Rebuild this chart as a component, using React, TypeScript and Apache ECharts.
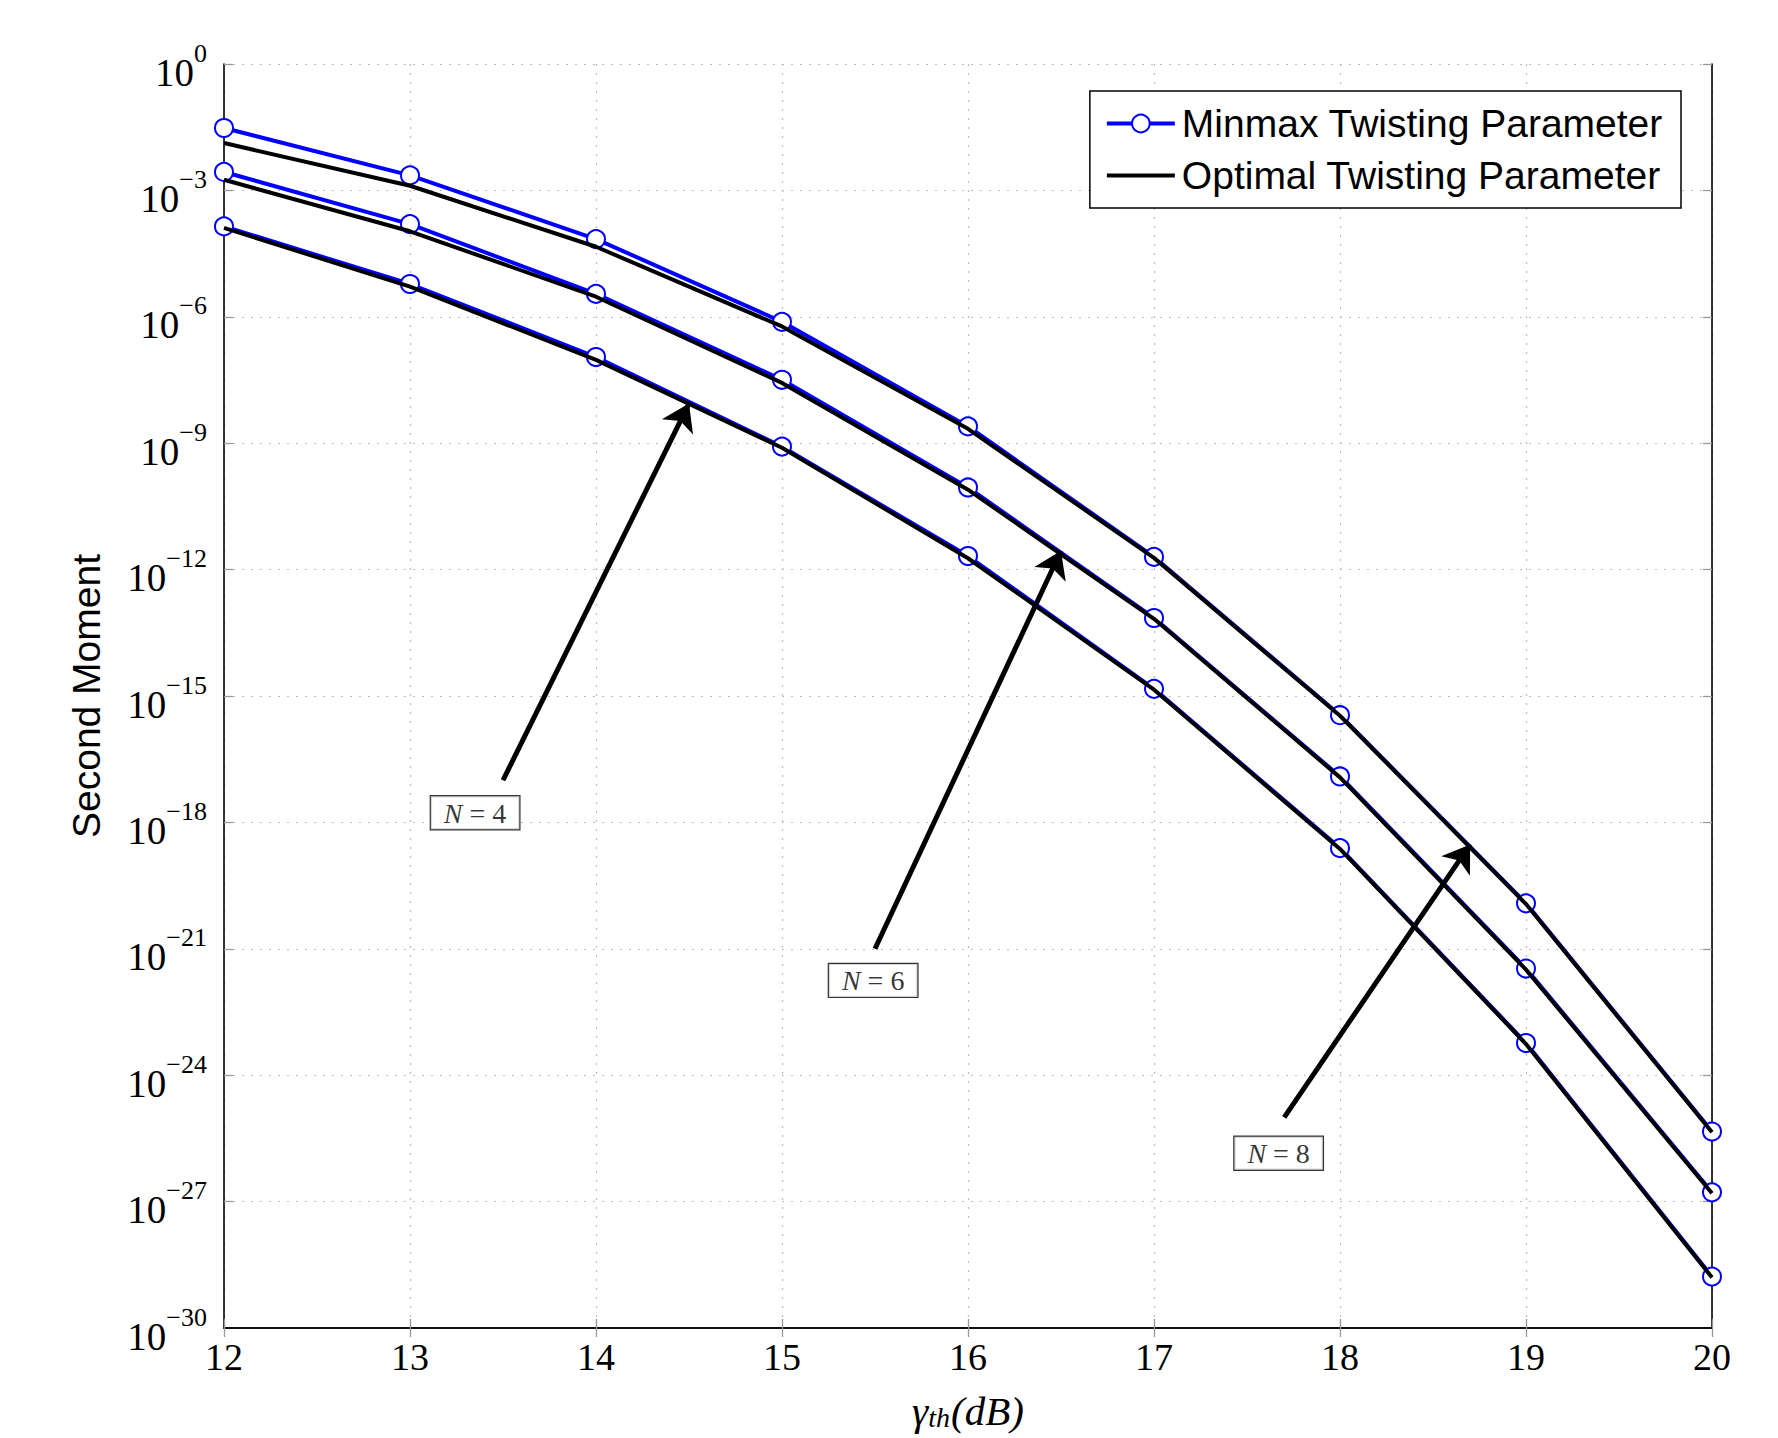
import React, { useEffect, useRef } from "react";
import * as echarts from "echarts";

// gamma_th in dB
const xValues = [12, 13, 14, 15, 16, 17, 18, 19, 20];

// Second moment values
const minmaxN8 = [3.03e-2, 2.27e-3, 7.0e-5, 7.6e-7, 2.5e-9, 2.0e-12, 3.5e-16, 1.2e-20, 4.6e-26];
const optimalN8 = [1.33e-2, 1.29e-3, 4.6e-5, 5.9e-7, 2.2e-9, 1.9e-12, 3.4e-16, 1.15e-20, 4.4e-26];
const minmaxN6 = [2.74e-3, 1.58e-4, 3.5e-6, 3.2e-8, 8.9e-11, 7.1e-14, 1.23e-17, 3.4e-22, 1.66e-27];
const optimalN6 = [1.79e-3, 1.07e-4, 3.0e-6, 2.7e-8, 7.9e-11, 6.8e-14, 1.17e-17, 3.2e-22, 1.58e-27];
const minmaxN4 = [1.4e-4, 6.0e-6, 1.11e-7, 8.3e-10, 2.1e-12, 1.48e-15, 2.45e-19, 5.8e-24, 1.66e-29];
const optimalN4 = [1.29e-4, 5.2e-6, 9.5e-8, 7.8e-10, 1.86e-12, 1.41e-15, 2.34e-19, 5.5e-24, 1.58e-29];

// Axis range
const xMin = 12;
const xMax = 20;
const yMin = 1e-30;
const yMax = 1;

// Annotations
const annotationLabels = ["4", "6", "8"];
const labelX = [13.35, 15.49, 17.67];
const labelY = [1.7e-18, 1.78e-22, 1.41e-26];
const arrowFromX = [13.5, 15.5, 17.7];
const arrowFromY = [1e-17, 1e-21, 1e-25];
const arrowToX = [14.5, 16.5, 18.7];
const arrowToY = [8.7e-9, 2.8e-12, 3.0e-19];

const MINMAX = "Minmax Twisting Parameter";
const OPTIMAL = "Optimal Twisting Parameter";
const Y_TITLE = "Second Moment";

const SERIF = "'Liberation Serif', 'DejaVu Serif', serif";
const SANS = "'Liberation Sans', Arial, sans-serif";

const zip = (ys: number[]) => xValues.map((x, i) => [x, ys[i]]);

const tickRich = {
  b: { fontFamily: SERIF, fontSize: 39, fill: "#000", color: "#000", padding: [16, 0, 0, 0] },
  s: { fontFamily: SERIF, fontSize: 26, fill: "#000", color: "#000", padding: [0, 0, 22, 0] },
};
const expLabel = (v: number) => {
  const e = Math.round(Math.log10(v));
  const s = e === 0 ? "0" : "−" + String(-e);
  return `{b|10}{s|${s}}`;
};

export default function App() {
  const ref = useRef<HTMLDivElement>(null);

  useEffect(() => {
    if (!ref.current) return;
    const chart = echarts.init(ref.current, undefined, { renderer: "svg" });

    const gridLine = { show: true, lineStyle: { color: "#bdbdbd", type: [2, 7] as any, width: 1.2 } };
    const tick = { show: true, inside: true, length: 9, lineStyle: { color: "#999", width: 1.3 } };
    const frameLine = { show: true, lineStyle: { color: "#000", width: 1.6 } };

    const minmaxSeries = [minmaxN8, minmaxN6, minmaxN4].map((d) => ({
      name: MINMAX,
      type: "line",
      data: zip(d),
      symbol: "emptyCircle",
      symbolSize: 18,
      showSymbol: true,
      lineStyle: { color: "#0000ff", width: 4 },
      itemStyle: { color: "#0000ff", borderWidth: 3.6 },
      z: 2,
    }));
    const optimalSeries = [optimalN8, optimalN6, optimalN4].map((d) => ({
      name: OPTIMAL,
      type: "line",
      data: zip(d),
      symbol: "none",
      showSymbol: false,
      lineStyle: { color: "#000", width: 4 },
      itemStyle: { color: "#000" },
      z: 3,
    }));

    const arrowSeries = {
      name: "arrows",
      type: "line",
      data: [],
      silent: true,
      z: 4,
      markLine: {
        silent: true,
        symbol: ["none", "arrow"],
        symbolSize: 26,
        label: { show: false },
        lineStyle: { color: "#000", width: 5, type: "solid" },
        data: arrowFromX.map((x, i) => [
          { coord: [x, arrowFromY[i]] },
          { coord: [arrowToX[i], arrowToY[i]] },
        ]),
      },
    };

    const labelSeries = {
      name: "labels",
      type: "scatter",
      symbolSize: 1,
      silent: true,
      z: 5,
      itemStyle: { color: "transparent" },
      data: labelX.map((x, i) => ({ value: [x, labelY[i]], name: annotationLabels[i] })),
      label: {
        show: true,
        position: "inside",
        formatter: (p: any) => `{i|N}{t| = ${p.name}}`,
        backgroundColor: "#fff",
        borderColor: "#000",
        borderWidth: 1.2,
        padding: [3, 13, 2, 13],
        rich: {
          i: { fontFamily: SERIF, fontStyle: "italic", fontSize: 28, color: "#000" },
          t: { fontFamily: SERIF, fontSize: 28, color: "#000" },
        },
      },
    };

    const yTitle = {
      type: "text",
      x: 86,
      y: 696,
      rotation: Math.PI / 2,
      style: {
        text: Y_TITLE,
        fontFamily: SANS,
        fontSize: 39,
        fill: "#000",
        align: "center",
        verticalAlign: "middle",
      },
    };

    chart.setOption({
      animation: false,
      backgroundColor: "#fff",
      grid: {
        left: 224,
        top: 64,
        right: 66,
        bottom: 110,
        containLabel: false,
        outerBoundsMode: "none",
      },
      graphic: [yTitle],
      legend: {
        orient: "vertical",
        right: 97,
        top: 91,
        data: [
          { name: MINMAX, lineStyle: { width: 4, color: "#0000ff" } },
          { name: OPTIMAL, lineStyle: { width: 4, color: "#000" }, itemStyle: { opacity: 0 } },
        ],
        itemWidth: 68,
        itemHeight: 22,
        itemGap: 13,
        padding: [13, 18, 13, 15],
        borderColor: "#000",
        borderWidth: 1.5,
        backgroundColor: "#fff",
        textStyle: { fontFamily: SANS, fontSize: 39, color: "#000", padding: [0, 0, 0, 2] },
      },
      xAxis: [
        {
          type: "value",
          min: xMin,
          max: xMax,
          interval: 1,
          name: "{g|γ}{s|th}{n|(dB)}",
          nameLocation: "middle",
          nameGap: 62,
          nameTextStyle: {
            rich: {
              g: { fontFamily: SERIF, fontStyle: "italic", fontSize: 41, color: "#000" },
              s: { fontFamily: SERIF, fontStyle: "italic", fontSize: 28, color: "#000", padding: [13, 1, 0, 0] },
              n: { fontFamily: SERIF, fontStyle: "italic", fontSize: 41, color: "#000" },
            },
          },
          axisLine: frameLine,
          axisTick: tick,
          splitLine: gridLine,
          axisLabel: { fontFamily: SERIF, fontSize: 38, color: "#000", margin: 10 },
        },
        {
          type: "value",
          position: "top",
          min: xMin,
          max: xMax,
          interval: 1,
          axisLine: frameLine,
          axisTick: tick,
          axisLabel: { show: false },
          splitLine: { show: false },
        },
      ],
      yAxis: [
        {
          type: "log",
          logBase: 10,
          min: yMin,
          max: yMax,
          interval: 3,
          axisLine: frameLine,
          axisTick: tick,
          splitLine: gridLine,
          axisLabel: {
            margin: 17,
            showMinLabel: true,
            showMaxLabel: true,
            formatter: (v: number) => (Math.round(Math.log10(v)) <= -30 ? "" : expLabel(v)),
            rich: tickRich,
          },
        },
        {
          type: "log",
          logBase: 10,
          min: yMin,
          max: yMax,
          interval: 3,
          position: "right",
          axisLine: frameLine,
          axisTick: tick,
          axisLabel: { show: false },
          splitLine: { show: false },
        },
      ],
      series: [...minmaxSeries, ...optimalSeries, arrowSeries, labelSeries],
    });

    // Bottom tick label (10^-30), placed at the axis' own pixel position for yMin
    const py = chart.convertToPixel({ yAxisIndex: 0 }, yMin) as unknown as number;
    const px = chart.convertToPixel({ xAxisIndex: 0 }, xMin) as unknown as number;
    if (isFinite(py) && isFinite(px)) {
      chart.setOption({
        graphic: [
          yTitle,
          {
            type: "text",
            x: px - 17,
            y: py,
            style: {
              text: expLabel(yMin),
              rich: tickRich,
              align: "right",
              verticalAlign: "middle",
              fill: "#000",
            },
          },
        ],
      });
    }

    return () => chart.dispose();
  }, []);

  return (
    <div
      ref={ref}
      style={{ position: "absolute", left: 0, top: 0, width: 1778, height: 1438, background: "#fff" }}
    />
  );
}
